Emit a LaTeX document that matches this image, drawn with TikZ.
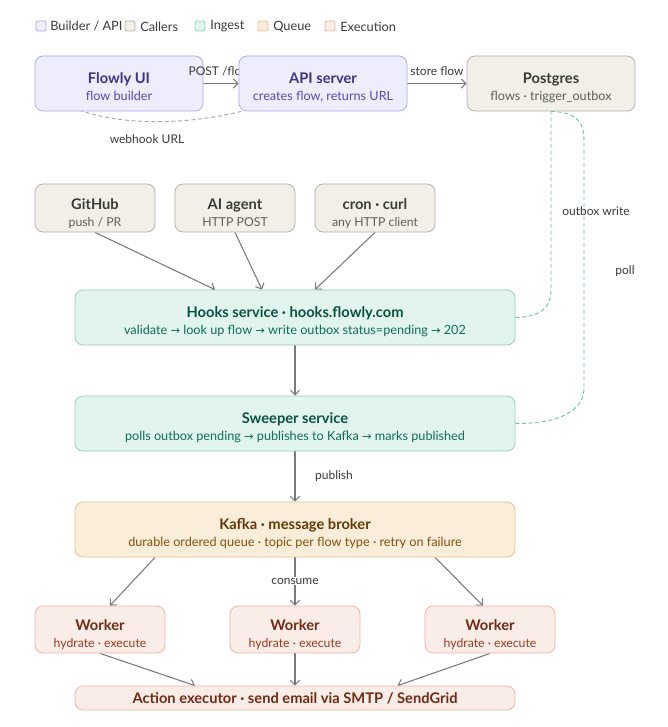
\documentclass[tikz,border=0pt]{standalone}
\usepackage{fontspec}
\setmainfont{Lato}
\newfontfamily\symfont{DejaVu Sans}
\usetikzlibrary{arrows.meta,backgrounds}
\definecolor{pfill}{HTML}{EEEDFE}\definecolor{pline}{HTML}{AFA9EC}\definecolor{ptitle}{HTML}{3C3489}\definecolor{psub}{HTML}{534AB7}
\definecolor{gfill}{HTML}{F1EFE8}\definecolor{gline}{HTML}{B4B2A9}\definecolor{gtitle}{HTML}{3A3A38}\definecolor{gsub}{HTML}{5F5E5A}
\definecolor{tfill}{HTML}{E1F5EE}\definecolor{tline}{HTML}{8FD5BC}\definecolor{ttitle}{HTML}{085041}\definecolor{tsub}{HTML}{0F6E56}
\definecolor{afill}{HTML}{FAEEDA}\definecolor{aline}{HTML}{E9C08C}\definecolor{atitle}{HTML}{633806}\definecolor{asub}{HTML}{854F0B}
\definecolor{cfill}{HTML}{FAECE7}\definecolor{cline}{HTML}{EDB5A2}\definecolor{ctitle}{HTML}{712B13}\definecolor{csub}{HTML}{993C1D}
\definecolor{arrowc}{HTML}{7A7A78}\definecolor{dashc}{HTML}{6CC5A5}\definecolor{labc}{HTML}{3A3A38}
\newcommand\ra{{\symfont\fontsize{8.5}{8}\selectfont →}}
\newcommand\ttl[1]{{\fontsize{11}{14}\selectfont\bfseries\color{\tc}#1}}
\newcommand\two[2]{\vtop{\halign{\hfil##\hfil\cr\ttl{#1}\cr#2\cr}}}
\tikzset{
  box/.style={draw, rounded corners=6pt, line width=0.6pt, inner sep=0pt},
  pbox/.style={box, fill=pfill, draw=pline, text=psub, execute at begin node=\def\tc{ptitle}},
  gbox/.style={box, fill=gfill, draw=gline, text=gsub, execute at begin node=\def\tc{gtitle}},
  tbox/.style={box, fill=tfill, draw=tline, text=tsub, execute at begin node=\def\tc{ttitle}},
  abox/.style={box, fill=afill, draw=aline, text=asub, execute at begin node=\def\tc{atitle}},
  cbox/.style={box, fill=cfill, draw=cline, text=csub, execute at begin node=\def\tc{ctitle}},
  big/.style={minimum width=126pt, minimum height=41.25pt, text height=0pt, text depth=0.6pt,
    font=\fontsize{9.5}{12.75}\selectfont},
  caller/.style={minimum width=90pt, minimum height=36pt, text height=2.2pt, text depth=0pt,
    font=\fontsize{9.2}{12.5}\selectfont},
  wide/.style={minimum width=330pt, minimum height=41.25pt, text height=0pt, text depth=0.6pt,
    font=\fontsize{9.5}{12.75}\selectfont},
  worker/.style={minimum width=97.5pt, minimum height=35.25pt, text height=2.2pt, text depth=0pt,
    font=\fontsize{9.2}{12.5}\selectfont},
  conn/.style={draw=arrowc, line width=0.8pt, -{Straight Barb[length=3.5pt,width=7pt]}},
  dashline/.style={draw=dashc, line width=0.7pt, dash pattern=on 3pt off 2pt},
  graydash/.style={draw=gray!70, line width=0.7pt, dash pattern=on 3pt off 2pt},
  lab/.style={text=labc, font=\fontsize{9}{10}\selectfont, inner sep=1pt},
  legsq/.style={draw, rounded corners=1.5pt, line width=0.6pt, minimum size=7.5pt, inner sep=0pt},
  legtxt/.style={text=labc, font=\fontsize{9.6}{11}\selectfont, anchor=west, inner sep=0pt},
}
\begin{document}
\begin{tikzpicture}[x=0.75pt,y=-0.75pt]
\begin{scope}[on background layer]
\path[use as bounding box, fill=white] (0,0) rectangle (667,727);
\end{scope}
% legend
\node[legsq, fill=pfill, draw=pline] (l1) at (41,26) {};
\node[legtxt] (l1t) at (50,26.5) {Builder / API};
\node[legsq, fill=gfill, draw=gline] (l2) at (130,26) {};
\node[legtxt] (l2t) at (140,26.5) {Callers};
\node[legsq, fill=tfill, draw=tline] (l3) at (200,26) {};
\node[legtxt] (l3t) at (210,26.5) {Ingest};
\node[legsq, fill=afill, draw=aline] (l4) at (263,26) {};
\node[legtxt] (l4t) at (273,26.5) {Queue};
\node[legsq, fill=cfill, draw=cline] (l5) at (330,26) {};
\node[legtxt] (l5t) at (340,26.5) {Execution};
% top row
\node[pbox, big] (ui) at (119,83.5) {\two{Flowly UI}{flow builder}};
\node[lab, anchor=west] (postl) at (187,71) {POST /flow};
\node[pbox, big] (api) at (323,83.5) {\two{API server}{creates flow, returns URL}};
\node[gbox, big] (pg) at (551,83.5) {\two{Postgres}{flows · trigger\_outbox}};
% callers
\node[gbox, caller] (gh) at (95,208) {\two{GitHub}{push / PR}};
\node[gbox, caller] (ai) at (235,208) {\two{AI agent}{HTTP POST}};
\node[gbox, caller] (cron) at (375,208) {\two{cron · curl}{any HTTP client}};
% ingest
\node[tbox, wide] (hooks) at (295,317.5) {\two{Hooks service · hooks.flowly.com}{validate \ra{} look up flow \ra{} write outbox status=pending \ra{} 202}};
\node[tbox, wide] (sw) at (295,423.5) {\two{Sweeper service}{polls outbox pending \ra{} publishes to Kafka \ra{} marks published}};
% queue
\node[abox, wide] (kafka) at (295,529.5) {\two{Kafka · message broker}{durable ordered queue · topic per flow type · retry on failure}};
% workers
\node[cbox, worker] (w1) at (100,629.5) {\two{Worker}{hydrate · execute}};
\node[cbox, worker] (w2) at (295,629.5) {\two{Worker}{hydrate · execute}};
\node[cbox, worker] (w3) at (490,629.5) {\two{Worker}{hydrate · execute}};
\node[cbox, minimum width=330pt, minimum height=18pt] (act) at (295,698) {\ttl{Action executor · send email via SMTP / SendGrid}};
% connectors
\begin{scope}[on background layer]
\draw[conn] (ui.east) -- (api.west);
\draw[conn] (api.east) -- (pg.west);
\node[lab] (storel) at (437,71) {store flow};
\draw[graydash] ([xshift=2pt]api.south west) .. controls (190,124) and (110,130) .. ([xshift=-48pt,yshift=9pt]ui.south);
\node[lab] (whl) at (147,139) {webhook URL};
\draw[conn] ([xshift=0pt]gh.south) -- ([xshift=-60pt]hooks.north);
\draw[conn] (ai.south) -- ([xshift=-24.75pt]hooks.north);
\draw[conn] (cron.south) -- ([xshift=15pt]hooks.north);
\draw[conn] (hooks.south) -- (sw.north);
\draw[dashline] (hooks.east) .. controls (540,317) and (551,308) .. (551,290) -- (pg.south);
\node[lab] (obl) at (596,211) {outbox write};
\draw[dashline] (pg.south) .. controls (574,112) and (584,120) .. (584,140) -- (584,388) .. controls (584,410) and (560,424) .. (sw.east);
\node[lab] (polll) at (625,271) {poll};
\draw[conn] (sw.south) -- (kafka.north);
\node[lab] (publ) at (334,476) {publish};
\draw[conn] ([xshift=-105pt]kafka.south) -- ([xshift=7.5pt]w1.north);
\draw[conn] (kafka.south) -- (w2.north);
\node[lab, fill=white] (consl) at (295,581) {consume};
\draw[conn] ([xshift=105pt]kafka.south) -- ([xshift=-5.25pt]w3.north);
\draw[conn] (w1.south) -- ([xshift=-75pt]act.north);
\draw[conn] (w2.south) -- (act.north);
\draw[conn] (w3.south) -- ([xshift=77pt]act.north);
\end{scope}
\end{tikzpicture}
\end{document}
